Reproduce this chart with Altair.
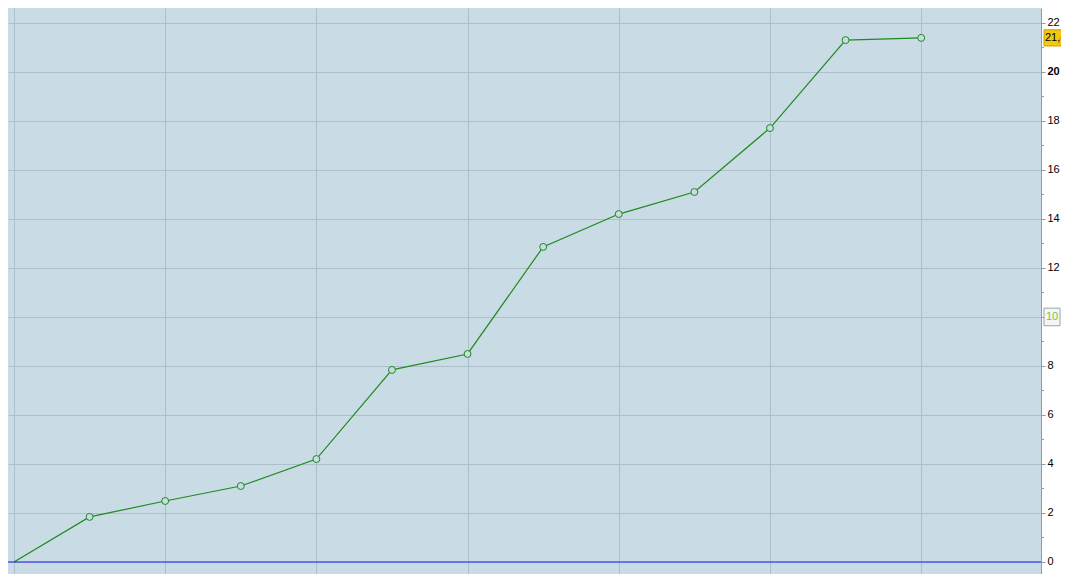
import altair as alt
import pandas as pd

xs = list(range(13))
ys = [0, 1.84, 2.49, 3.10, 4.20, 7.84, 8.49, 12.86, 14.20, 15.10, 17.71, 21.30, 21.39]
major_ticks = list(range(0, 23, 2))
minor_ticks = list(range(1, 23, 2))
vgrid = [0, 2, 4, 6, 8, 10, 12]
last_label = "21,40"
marker_value = 10

df = pd.DataFrame({"x": xs, "y": ys})
df_pts = df.iloc[1:]

W, H = 1033, 566
xscale = alt.Scale(domain=[-0.079, 13.585], nice=False, zero=False)
yscale = alt.Scale(domain=[-0.49, 22.61], nice=False, zero=False)

line = alt.Chart(df).mark_line(color="#1f8a1f", strokeWidth=1.2).encode(
    x=alt.X("x:Q", scale=xscale,
            axis=alt.Axis(values=vgrid, grid=True, gridColor="#adbfca", gridWidth=1,
                          labels=False, ticks=False, domain=False, title=None)),
    y=alt.Y("y:Q", scale=yscale,
            axis=alt.Axis(orient="right", values=major_ticks, grid=True, gridColor="#adbfca",
                          gridWidth=1, domainColor="#8e9ca5", tickColor="#8e9ca5", tickSize=4,
                          labelColor="#000000", labelFont="Liberation Sans", labelFontSize=11,
                          labelExpr="datum.value == 10 ? '' : datum.label",
                          labelFontWeight=alt.condition("datum.value == 20", alt.value("bold"), alt.value("normal")),
                          labelPadding=2, title=None)),
)

pts = alt.Chart(df_pts).mark_point(shape="circle", size=48, filled=False, fill="#c9dbe5",
                                   fillOpacity=1, color="#1f8a1f", strokeWidth=1, opacity=1).encode(
    x=alt.X("x:Q", scale=xscale), y=alt.Y("y:Q", scale=yscale))

zero_df = pd.DataFrame({"y": [0]})
zero_rule = alt.Chart(zero_df).mark_rule(color="#1a1aff", strokeWidth=1).encode(
    x=alt.value(0), x2=alt.value(W), y=alt.Y("y:Q", scale=yscale))

minor_df = pd.DataFrame({"y": minor_ticks})
minor = alt.Chart(minor_df).mark_rule(color="#8e9ca5", strokeWidth=1).encode(
    x=alt.value(W), x2=alt.value(W + 3), y=alt.Y("y:Q", scale=yscale))

last_df = pd.DataFrame({"y": [ys[-1]], "t": [last_label]})
last_box = alt.Chart(last_df).transform_calculate(y1="datum.y + 0.33", y2b="datum.y - 0.33").mark_rect(
    fill="#f2c811", stroke="#c8a000", strokeWidth=1, clip=False).encode(
    x=alt.value(W + 3), x2=alt.value(W + 40),
    y=alt.Y("y1:Q", scale=yscale), y2="y2b:Q")
last_text = alt.Chart(last_df).mark_text(align="left", baseline="middle", font="Liberation Sans",
                                          fontSize=11, color="#000000", clip=False).encode(
    x=alt.value(W + 4), y=alt.Y("y:Q", scale=yscale), text="t:N")

mk_df = pd.DataFrame({"y": [marker_value], "t": [str(marker_value)]})
mk_box = alt.Chart(mk_df).transform_calculate(y1="datum.y + 0.36", y2b="datum.y - 0.36").mark_rect(
    fill="#f4f6f6", stroke="#9aa5aa", strokeWidth=1, clip=False).encode(
    x=alt.value(W + 3), x2=alt.value(W + 19),
    y=alt.Y("y1:Q", scale=yscale), y2="y2b:Q")
mk_text = alt.Chart(mk_df).mark_text(align="left", baseline="middle", font="Liberation Sans",
                                      fontSize=11, color="#66cc44", clip=False).encode(
    x=alt.value(W + 5), y=alt.Y("y:Q", scale=yscale), text="t:N")

chart = alt.layer(line, zero_rule, pts, minor, last_box, last_text, mk_box, mk_text).properties(
    width=W, height=H,
    padding={"left": 0, "top": 0, "right": 20, "bottom": 0},
    autosize=alt.AutoSizeParams(type="none"),
    background="#ffffff",
).configure_view(fill="#c9dbe5", stroke=None)

chart.save("out.html", embed_options={"renderer": "svg", "actions": False})
